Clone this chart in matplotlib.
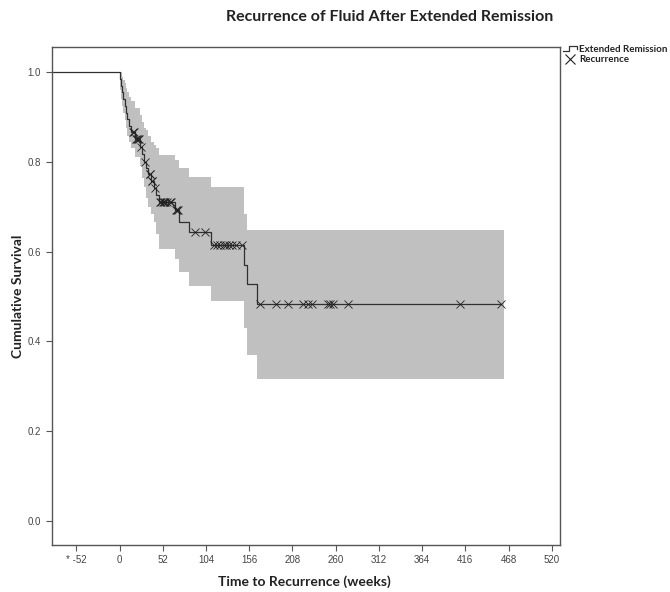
import numpy as np
import matplotlib
matplotlib.use("Agg")
import matplotlib.pyplot as plt
from matplotlib.lines import Line2D
from matplotlib.legend_handler import HandlerBase

# Kaplan-Meier steps: event time (weeks), survival, CI upper, CI lower
event_t = [0, 0.3, 1.5, 3, 4.5, 6, 7.5, 9, 11, 13.5, 18.5, 24, 27, 29.5, 32, 34.5,
           37.5, 41, 44, 47.5, 67, 71.7, 83.8, 109.9, 150.2, 153.8, 164.9]
surv = [1.0, .985, .970, .955, .940, .925, .910, .895, .880, .866, .851, .834, .817,
        .800, .786, .772, .757, .741, .726, .711, .692, .667, .643, .615, .570, .528, .483]
ci_upper = [1.0, 1.0, 1.0, .990, .983, .975, .965, .955, .945, .935, .920, .905, .888,
            .876, .870, .857, .845, .837, .830, .816, .804, .786, .766, .744, .685, .648, .648]
ci_lower = [1.0, .960, .940, .925, .910, .893, .875, .858, .845, .830, .810, .790, .765,
            .745, .720, .700, .685, .667, .640, .607, .583, .555, .523, .491, .429, .370, .316]
last_t = 458.5
band_end = 462.4

# censored cases (x markers)
censored_t = [16, 17.5, 19.5, 21, 22.5, 23.5, 25.5, 30, 36, 36.8, 38.5, 39.5, 42.5,
              48, 50, 52, 53.5, 55, 57, 60, 62, 68, 69, 70, 91, 103,
              113, 117, 121, 125, 128, 131, 135, 140, 147,
              168.8, 188.1, 202.2, 220.2, 226.2, 231, 250.3, 253.1, 256.3, 275.1,
              409.5, 458.5]

x_ticks = [-52, 0, 52, 104, 156, 208, 260, 312, 364, 416, 468, 520]
x_ticklabels = ['* -52'] + [str(v) for v in x_ticks[1:]]
y_ticks = [0.0, 0.2, 0.4, 0.6, 0.8, 1.0]


class StepHandler(HandlerBase):
    def create_artists(self, legend, orig, x0, y0, w, h, fontsize, trans):
        xs = [x0, x0 + w * 0.45, x0 + w * 0.45, x0 + w, x0 + w]
        ys = [y0 + h * 0.15, y0 + h * 0.15, y0 + h * 0.85, y0 + h * 0.85, y0 + h * 0.5]
        ln = Line2D(xs, ys, color='#333333', lw=0.9, transform=trans)
        return [ln]


def do_plot():
    fig = plt.figure(figsize=(6.7, 5.92), dpi=100)
    ax = fig.add_axes([0.0769, 0.0794, 0.759, 0.841])

    t_band = event_t + [band_end]
    up = ci_upper + [ci_upper[-1]]
    lo = ci_lower + [ci_lower[-1]]
    ax.fill_between(t_band, lo, up, step='post', color='#c0c0c0', lw=0)

    t_line = [-82] + event_t + [last_t]
    s_line = [1.0] + surv + [surv[-1]]
    ax.step(t_line, s_line, where='post', color='#303030', lw=0.9)

    idx = np.searchsorted(event_t, censored_t, side='right') - 1
    cens_s = np.array(surv)[idx]
    ax.plot(censored_t, cens_s, 'x', color='#202020', ms=6, mew=0.6)

    ax.set_xlim(-82, 530)
    ax.set_ylim(-0.0535, 1.0557)
    ax.set_xticks(x_ticks)
    ax.set_xticklabels(x_ticklabels)
    ax.set_yticks(y_ticks)
    ax.set_yticklabels(['%.1f' % v for v in y_ticks])
    ax.tick_params(labelsize=7, colors='#555555', length=4, width=0.8,
                   labelcolor='#444444')
    for lab in ax.get_xticklabels() + ax.get_yticklabels():
        lab.set_family('Liberation Sans')
    for sp in ax.spines.values():
        sp.set_color('#555555')
        sp.set_linewidth(1.0)

    fig.text(0.455, 0.017, 'Time to Recurrence (weeks)', ha='center', va='center',
             fontsize=10, fontweight='bold', family='Lato', color='#222222')
    fig.text(0.027, 0.5, 'Cumulative Survival', ha='center', va='center',
             rotation=90, fontsize=10, fontweight='bold', family='Lato',
             color='#222222')
    fig.text(0.581, 0.972, 'Recurrence of Fluid After Extended Remission',
             ha='center', va='center', fontsize=11.5, fontweight='bold',
             family='Lato', color='#222222')

    h1 = Line2D([], [], color='#333333')
    h2 = Line2D([], [], ls='none', marker='x', color='#202020', ms=7, mew=0.8)
    leg = ax.legend([h1, h2], ['Extended Remission', 'Recurrence'],
                    handler_map={h1: StepHandler()},
                    loc='upper left', bbox_to_anchor=(1.0, 1.01), frameon=False,
                    fontsize=7, handlelength=1.4, handletextpad=0.3,
                    borderaxespad=0.2, labelspacing=0.1, borderpad=0.1)
    for txt in leg.get_texts():
        txt.set_color('#222222')
        txt.set_family('Lato')
        txt.set_fontweight('bold')

    plt.savefig('out.png', dpi=100)


if __name__ == '__main__':
    do_plot()
